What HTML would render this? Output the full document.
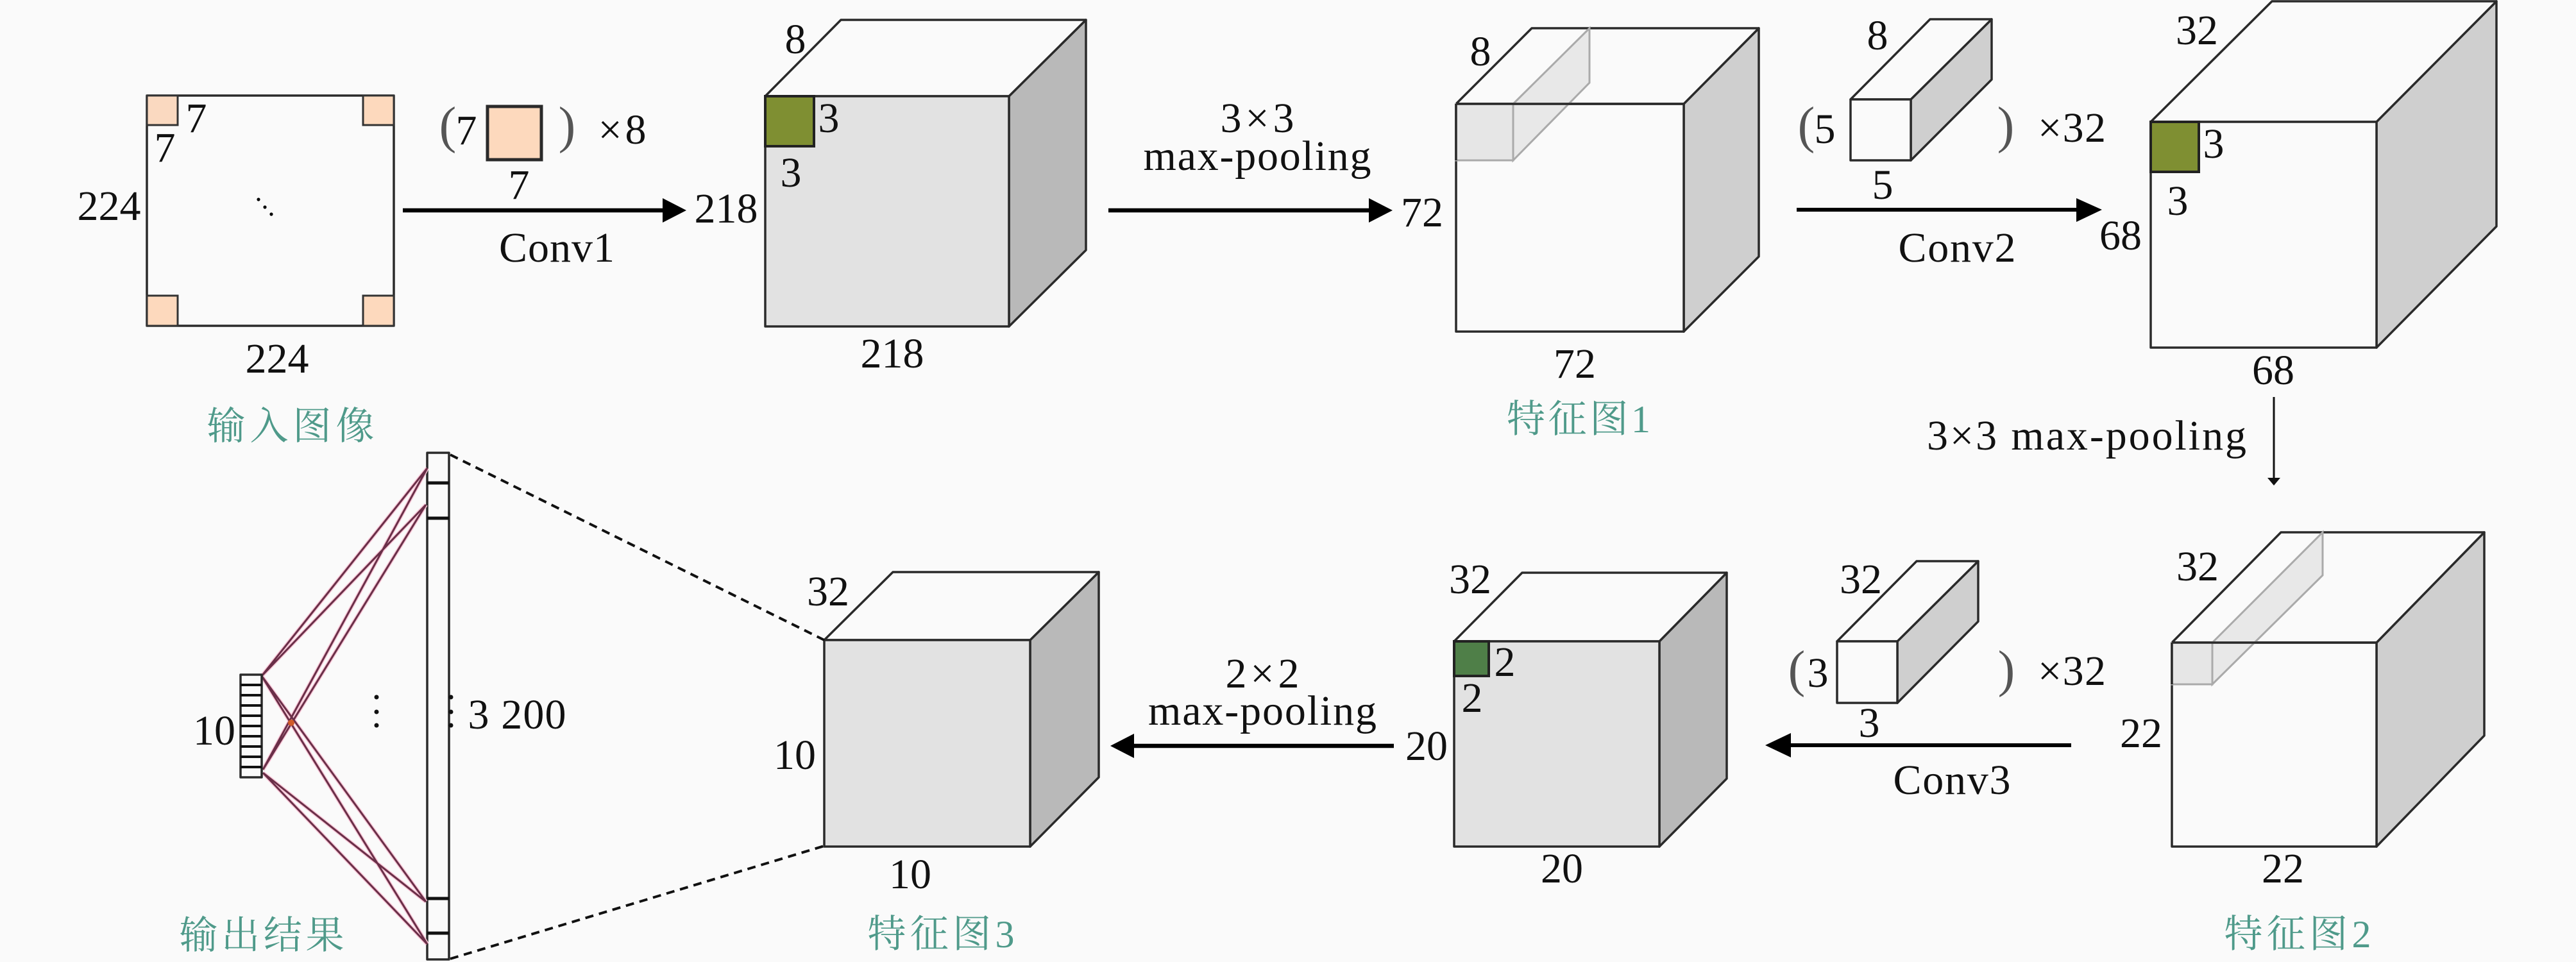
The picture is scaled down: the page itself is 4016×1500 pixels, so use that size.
<!DOCTYPE html>
<html><head><meta charset="utf-8">
<style>
html,body{margin:0;padding:0;background:#fafafa;width:4016px;height:1500px;overflow:hidden}
svg{display:block}
text{font-family:"Liberation Serif","Noto Serif CJK SC",serif;font-size:66px;fill:#111;text-anchor:middle}
text.c{fill:#4f9a8a;font-size:60px}
text.p{font-size:80px;fill:#555}
.s{stroke:#2a2a2a;stroke-width:3.5;stroke-linejoin:round}
.l{stroke:#6a2f48;stroke-width:3;fill:none}
.h{stroke:#f8c8d8;stroke-width:6;fill:none}
</style></head><body>
<svg width="4016" height="1500" viewBox="0 0 4016 1500" xmlns="http://www.w3.org/2000/svg">
<rect width="4016" height="1500" fill="#fafafa"/>

<!-- input -->
<rect x="229" y="149" width="385" height="359" fill="#fafafa" class="s"/>
<g fill="#fdd9bd" stroke="#333" stroke-width="3">
<rect x="229" y="149" width="48" height="46" fill="#fad9c0"/>
<rect x="566" y="149" width="48" height="46"/>
<rect x="229" y="461" width="48" height="47"/>
<rect x="566" y="461" width="48" height="47"/>
</g>
<circle cx="403" cy="311" r="2.6"/><circle cx="413" cy="323" r="2.6"/><circle cx="423" cy="334" r="2.6"/>
<text x="306" y="206">7</text><text x="257" y="252">7</text>
<text x="170" y="343">224</text><text x="432" y="581">224</text>
<text class="c" x="453" y="685" textLength="261">输入图像</text>

<!-- conv1 -->
<text class="p" x="698" y="222">(</text>
<text x="727" y="225">7</text>
<rect x="760" y="166" width="84" height="83" fill="#fdd9bd" stroke="#2a2a2a" stroke-width="5"/>
<text class="p" x="884" y="222">)</text>
<text x="970" y="224" textLength="75">×8</text>
<text x="809" y="310">7</text>
<line x1="628" y1="328" x2="1036" y2="328" stroke="#000" stroke-width="6.5"/>
<polygon points="1033,309 1070,328 1033,347"/>
<text x="868" y="408" textLength="180">Conv1</text>
<text x="1132" y="347">218</text>

<!-- cube1 -->
<polygon points="1573,150 1693,31 1693,390 1573,509" fill="#b9b9b9" class="s"/>
<polygon points="1193,150 1311,31 1693,31 1573,150" fill="#fafafa" class="s"/>
<rect x="1193" y="150" width="380" height="359" fill="#e2e2e2" class="s"/>
<rect x="1193" y="150" width="76" height="78" fill="#7f8f32" stroke="#222" stroke-width="4"/>
<text x="1240" y="83">8</text><text x="1292" y="206">3</text><text x="1233" y="291">3</text>
<text x="1391" y="573">218</text>

<!-- maxpool 1 -->
<text x="1960" y="206" textLength="115">3×3</text>
<text x="1960" y="265" textLength="355">max-pooling</text>
<line x1="1728" y1="328" x2="2136" y2="328" stroke="#000" stroke-width="6.5"/>
<polygon points="2134,309 2171,328 2134,347"/>
<text x="2217" y="353">72</text>

<!-- cube2 -->
<polygon points="2625,162 2742,44 2742,400 2625,517" fill="#cfcfcf" class="s"/>
<polygon points="2270,162 2388,44 2742,44 2625,162" fill="#fafafa" class="s"/>
<rect x="2270" y="162" width="355" height="355" fill="#fafafa" class="s"/>
<polygon points="2359,162 2478,44 2478,129 2359,250" fill="#dcdcdc" fill-opacity=".6" stroke="#aaa" stroke-width="3"/>
<rect x="2270" y="162" width="89" height="88" fill="#e6e6e6" stroke="#aaa" stroke-width="3"/>
<line x1="2270" y1="162" x2="2625" y2="162" class="s"/>
<line x1="2270" y1="162" x2="2270" y2="250" class="s"/>
<text x="2308" y="102">8</text><text x="2455" y="589">72</text>
<text class="c" x="2461" y="674" textLength="224">特征图1</text>

<!-- conv2 -->
<polygon points="2979,155 3105,30 3105,124 2979,250" fill="#cfcfcf" class="s"/>
<polygon points="2885,155 3009,30 3105,30 2979,155" fill="#fafafa" class="s"/>
<rect x="2885" y="155" width="94" height="95" fill="#fafafa" class="s"/>
<text class="p" x="2816" y="222">(</text>
<text x="2845" y="223">5</text>
<text class="p" x="3127" y="222">)</text>
<text x="3230" y="221" textLength="106">×32</text>
<text x="2927" y="77">8</text><text x="2935" y="310">5</text>
<line x1="2801" y1="327" x2="3240" y2="327" stroke="#000" stroke-width="6"/>
<polygon points="3237,309 3277,327 3237,346"/>
<text x="3051" y="408" textLength="183">Conv2</text>
<text x="3306" y="389">68</text>

<!-- cube3 -->
<polygon points="3705,190 3892,2 3892,353 3705,542" fill="#cfcfcf" class="s"/>
<polygon points="3353,190 3542,2 3892,2 3705,190" fill="#fafafa" class="s"/>
<rect x="3353" y="190" width="352" height="352" fill="#fafafa" class="s"/>
<rect x="3353" y="190" width="75" height="78" fill="#7f8f32" stroke="#222" stroke-width="4"/>
<text x="3425" y="69">32</text><text x="3451" y="246">3</text><text x="3395" y="335">3</text>
<text x="3544" y="599">68</text>

<!-- down arrow -->
<text x="3253" y="701" textLength="498">3×3 max-pooling</text>
<line x1="3545" y1="619" x2="3545" y2="748" stroke="#111" stroke-width="3"/>
<polygon points="3535,745 3555,745 3545,757" fill="#111"/>

<!-- cube4 -->
<polygon points="3705,1002 3873,830 3873,1147 3705,1320" fill="#cfcfcf" class="s"/>
<polygon points="3386,1002 3556,830 3873,830 3705,1002" fill="#fafafa" class="s"/>
<rect x="3386" y="1002" width="319" height="318" fill="#fafafa" class="s"/>
<polygon points="3449,1002 3621,830 3621,897 3449,1067" fill="#dcdcdc" fill-opacity=".6" stroke="#aaa" stroke-width="3"/>
<rect x="3386" y="1002" width="63" height="65" fill="#e6e6e6" stroke="#aaa" stroke-width="3"/>
<line x1="3386" y1="1002" x2="3705" y2="1002" class="s"/>
<line x1="3386" y1="1002" x2="3386" y2="1067" class="s"/>
<text x="3426" y="905">32</text><text x="3338" y="1165">22</text><text x="3559" y="1376">22</text>
<text class="c" x="3582" y="1477" textLength="229">特征图2</text>

<!-- conv3 -->
<polygon points="2958,1000 3084,875 3084,969 2958,1096" fill="#cfcfcf" class="s"/>
<polygon points="2864,1000 2988,875 3084,875 2958,1000" fill="#fafafa" class="s"/>
<rect x="2864" y="1000" width="94" height="96" fill="#fafafa" class="s"/>
<text class="p" x="2801" y="1070">(</text>
<text x="2834" y="1071">3</text>
<text class="p" x="3128" y="1070">)</text>
<text x="3230" y="1068" textLength="106">×32</text>
<text x="2901" y="925">32</text><text x="2914" y="1149">3</text>
<line x1="2790" y1="1162" x2="3229" y2="1162" stroke="#000" stroke-width="6"/>
<polygon points="2752,1162 2792,1143 2792,1181"/>
<text x="3043" y="1238" textLength="183">Conv3</text>

<!-- cube5 -->
<polygon points="2587,1000 2692,893 2692,1214 2587,1320" fill="#b9b9b9" class="s"/>
<polygon points="2267,1000 2373,893 2692,893 2587,1000" fill="#fafafa" class="s"/>
<rect x="2267" y="1000" width="320" height="320" fill="#e2e2e2" class="s"/>
<rect x="2267" y="1000" width="54" height="54" fill="#4f7f48" stroke="#222" stroke-width="4"/>
<text x="2292" y="925">32</text><text x="2346" y="1054">2</text><text x="2295" y="1110">2</text>
<text x="2224" y="1185">20</text><text x="2435" y="1376">20</text>

<!-- maxpool 2 -->
<text x="1968" y="1072" textLength="115">2×2</text>
<text x="1968" y="1130" textLength="356">max-pooling</text>
<line x1="1766" y1="1163" x2="2173" y2="1163" stroke="#000" stroke-width="6.5"/>
<polygon points="1731,1163 1768,1144 1768,1182"/>

<!-- cube6 -->
<polygon points="1606,998 1713,892 1713,1212 1606,1320" fill="#b9b9b9" class="s"/>
<polygon points="1285,998 1392,892 1713,892 1606,998" fill="#fafafa" class="s"/>
<rect x="1285" y="998" width="321" height="322" fill="#e2e2e2" class="s"/>
<text x="1291" y="944">32</text><text x="1239" y="1199">10</text><text x="1419" y="1385">10</text>
<text class="c" x="1467" y="1477" textLength="229">特征图3</text>

<!-- dashed -->
<line x1="702" y1="709" x2="1285" y2="998" stroke="#111" stroke-width="4" stroke-dasharray="13 9"/>
<line x1="702" y1="1495" x2="1285" y2="1319" stroke="#111" stroke-width="4" stroke-dasharray="13 9"/>

<!-- strip -->
<rect x="666" y="706" width="34" height="790" fill="#fafafa" class="s"/>
<g stroke="#111" stroke-width="5">
<line x1="666" y1="753" x2="700" y2="753"/><line x1="666" y1="808" x2="700" y2="808"/>
<line x1="666" y1="1401" x2="700" y2="1401"/><line x1="666" y1="1455" x2="700" y2="1455"/>
</g>
<g fill="#111">
<circle cx="703" cy="1087" r="3.5"/><circle cx="703" cy="1110" r="3.5"/><circle cx="703" cy="1131" r="3.5"/>
<circle cx="587" cy="1087" r="3.5"/><circle cx="587" cy="1110" r="3.5"/><circle cx="587" cy="1131" r="3.5"/>
</g>
<text x="806" y="1136" textLength="153">3 200</text>

<!-- connections -->
<g class="h">
<path d="M408 1054L666 730M408 1054L664 787M410 1200L666 730M410 1200L664 787M408 1054L664 1406M408 1054L666 1472M410 1205L664 1406M410 1205L666 1472"/>
</g>
<g class="l">
<path d="M408 1054L666 730M408 1054L664 787M410 1200L666 730M410 1200L664 787M408 1054L664 1406M408 1054L666 1472M410 1205L664 1406M410 1205L666 1472"/>
</g>
<circle cx="454" cy="1127" r="5" fill="#d05a2a"/>

<!-- output -->
<rect x="375" y="1052" width="33" height="160" fill="#fafafa" class="s"/>
<g stroke="#111" stroke-width="4">
<line x1="375" y1="1068" x2="408" y2="1068"/><line x1="375" y1="1084" x2="408" y2="1084"/>
<line x1="375" y1="1100" x2="408" y2="1100"/><line x1="375" y1="1116" x2="408" y2="1116"/>
<line x1="375" y1="1132" x2="408" y2="1132"/><line x1="375" y1="1148" x2="408" y2="1148"/>
<line x1="375" y1="1164" x2="408" y2="1164"/><line x1="375" y1="1180" x2="408" y2="1180"/>
<line x1="375" y1="1196" x2="408" y2="1196"/>
</g>
<text x="334" y="1161">10</text>
<text class="c" x="408" y="1479" textLength="257">输出结果</text>
</svg>
</body></html>
